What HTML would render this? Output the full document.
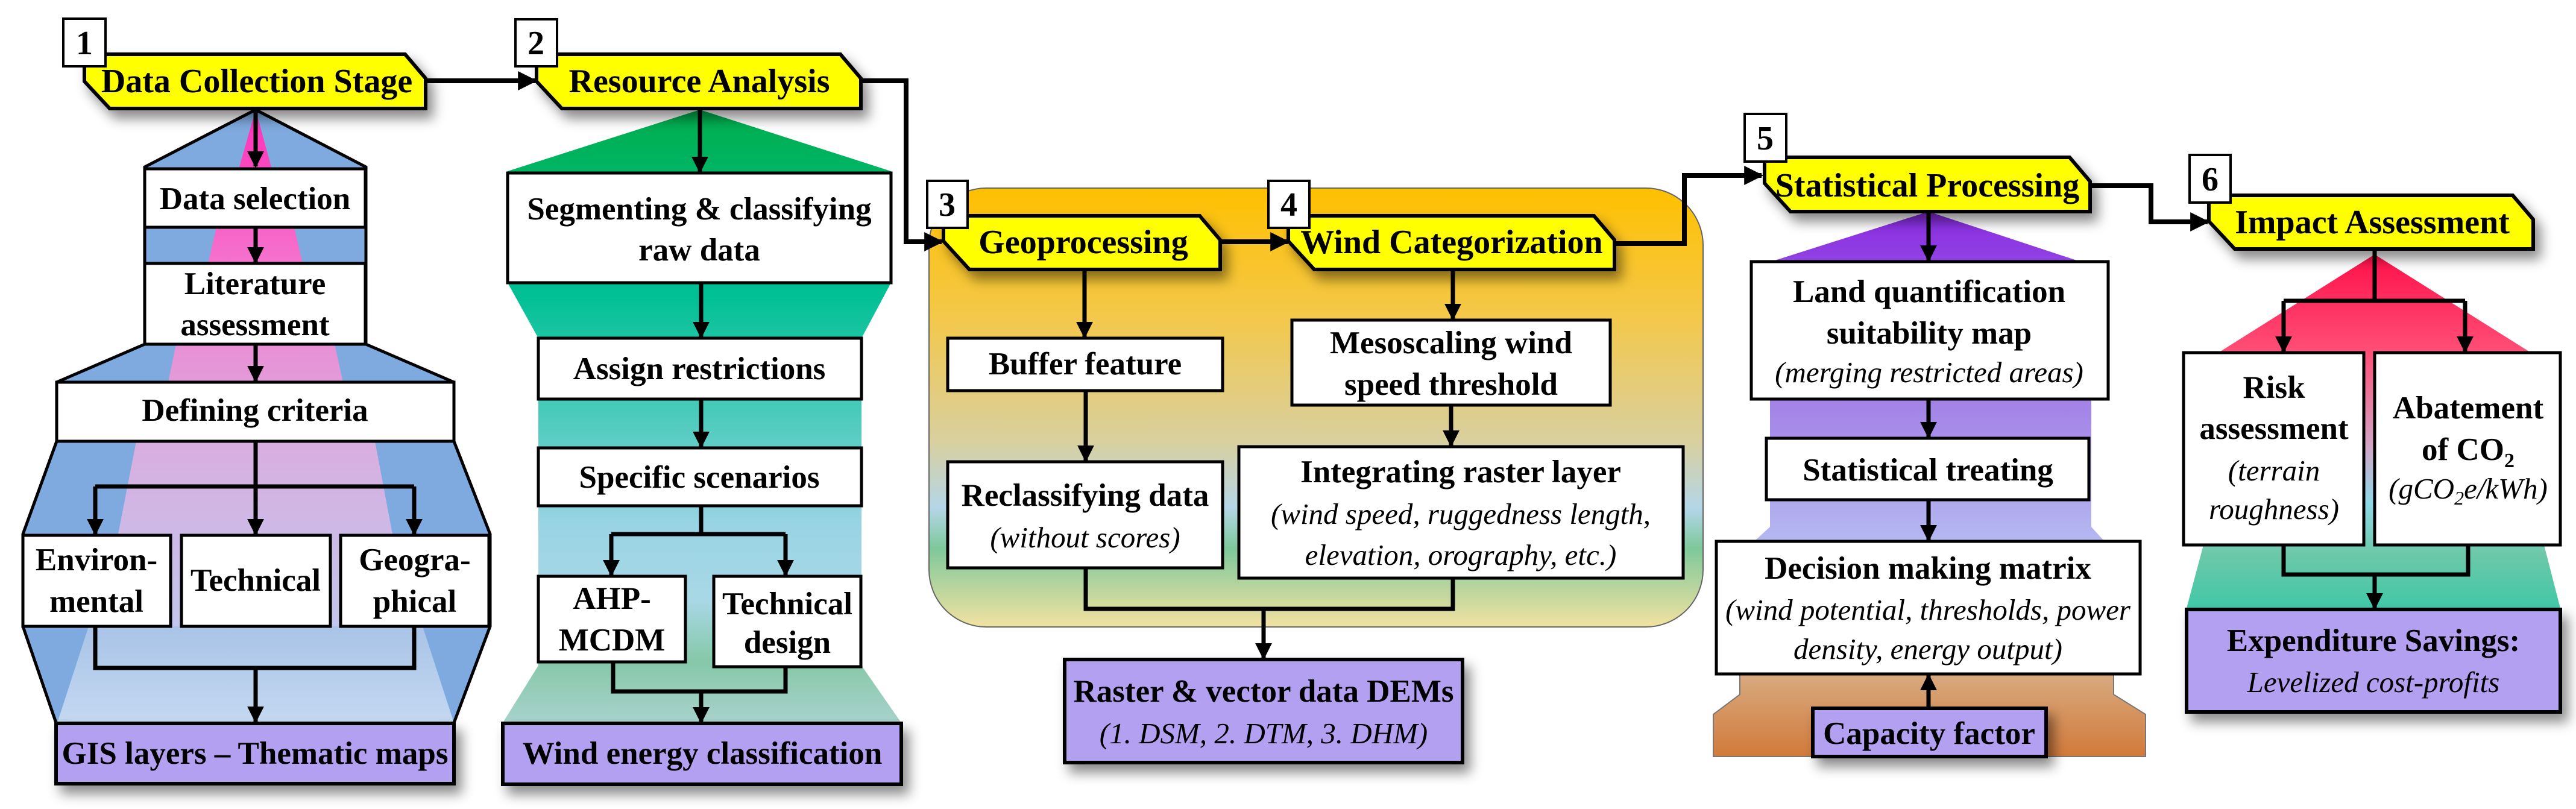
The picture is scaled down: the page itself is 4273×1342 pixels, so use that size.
<!DOCTYPE html>
<html><head><meta charset="utf-8"><style>
html,body{margin:0;padding:0;background:#fff;}
svg{display:block;}
text{font-family:"Liberation Serif",serif;font-weight:bold;fill:#000;}
.h{font-size:56px;}
.b{font-size:53px;}
.i{font-size:49px;font-style:italic;font-weight:normal;}
.n{font-size:56px;}
</style></head><body>
<svg width="4273" height="1342" viewBox="0 0 4273 1342" xmlns="http://www.w3.org/2000/svg" font-family="Liberation Serif, serif">
<defs>
<filter id="sh" x="-20%" y="-30%" width="150%" height="180%"><feDropShadow dx="10" dy="14" stdDeviation="10" flood-color="#000" flood-opacity="0.45"/></filter>
<marker id="ar" viewBox="0 0 10 10" refX="9" refY="5" markerWidth="4" markerHeight="4" orient="auto" markerUnits="strokeWidth"><path d="M0,0 L10,5 L0,10 z" fill="#000"/></marker>
<linearGradient id="beam" x1="0" y1="182" x2="0" y2="1039" gradientUnits="userSpaceOnUse">
<stop offset="0" stop-color="#ff2fb8"/><stop offset="0.35" stop-color="#f27fd0"/><stop offset="0.65" stop-color="#d8aee0"/><stop offset="1" stop-color="#c2c6ec"/></linearGradient>
<linearGradient id="low1" x1="0" y1="1039" x2="0" y2="1199" gradientUnits="userSpaceOnUse"><stop offset="0" stop-color="#a9c4e8"/><stop offset="1" stop-color="#c4d8f0"/></linearGradient>
<linearGradient id="g2" x1="0" y1="182" x2="0" y2="1199" gradientUnits="userSpaceOnUse">
<stop offset="0" stop-color="#00ae4c"/><stop offset="0.3" stop-color="#00c095"/><stop offset="0.5" stop-color="#4ccbbc"/><stop offset="0.68" stop-color="#9ad4e4"/><stop offset="0.8" stop-color="#a8d8e6"/><stop offset="0.9" stop-color="#86c8a8"/><stop offset="1" stop-color="#a8d2cc"/></linearGradient>
<linearGradient id="g3" x1="0" y1="312" x2="0" y2="1040" gradientUnits="userSpaceOnUse">
<stop offset="0" stop-color="#ffc000"/><stop offset="0.3" stop-color="#f3c84c"/><stop offset="0.58" stop-color="#d8d0a0"/><stop offset="0.73" stop-color="#b4d6e8"/><stop offset="0.82" stop-color="#7ec89c"/><stop offset="1" stop-color="#f2e2a0"/></linearGradient>
<linearGradient id="g5" x1="0" y1="351" x2="0" y2="897" gradientUnits="userSpaceOnUse">
<stop offset="0" stop-color="#8a2be2"/><stop offset="0.55" stop-color="#a27ee6"/><stop offset="1" stop-color="#b4b8f0"/></linearGradient>
<linearGradient id="gb" x1="0" y1="1118" x2="0" y2="1255" gradientUnits="userSpaceOnUse"><stop offset="0" stop-color="#d8aa80"/><stop offset="1" stop-color="#d27a3a"/></linearGradient>
<linearGradient id="g6" x1="0" y1="422" x2="0" y2="1009" gradientUnits="userSpaceOnUse">
<stop offset="0" stop-color="#ff1048"/><stop offset="0.28" stop-color="#ff5078"/><stop offset="0.55" stop-color="#d0a8c8"/><stop offset="0.7" stop-color="#90d8e8"/><stop offset="0.85" stop-color="#6cc8a8"/><stop offset="1" stop-color="#40c8a8"/></linearGradient>
</defs>

<polygon points="424,182 607,277 607,571 753,634 753,732 813,886 813,1039 753,1199 93,1199 38,1039 38,886 94,732 94,634 240,571 240,277" fill="#7faadf"/>
<polygon points="424,182 450,277 488,377 502,437 555,571 569,634 622,732 651,886 680,1039 168,1039 196,886 226,732 279,634 292,571 345,437 359,377 397,277" fill="url(#beam)"/>
<polygon points="147,1039 701,1039 753,1199 95,1199" fill="url(#low1)"/>
<polyline points="424,182 607,277 607,571 753,634 753,732 813,886 813,1039 753,1199" fill="none" stroke="#000" stroke-width="5"/>
<polyline points="424,182 240,277 240,571 94,634 94,732 38,886 38,1039 93,1199" fill="none" stroke="#000" stroke-width="5"/>

<polygon points="1161,182 1478,284 1478,469 1429,561 1429,1104 1495,1199 834,1199 893,1104 893,561 842,469 842,284" fill="url(#g2)"/>

<rect x="1541" y="312" width="1284" height="728" rx="95" fill="url(#g3)" stroke="#666" stroke-width="2"/>

<polygon points="3199,351 3448,433 3469,433 3469,874 3490,897 2911,897 2936,874 2936,433 2941,433" fill="url(#g5)"/>
<polygon points="2886,1118 3506,1118 3506,1152 3559,1185 3559,1255 2842,1255 2842,1185 2886,1152" fill="url(#gb)" stroke="#777" stroke-width="2"/>

<polygon points="3939,422 4195,583 4195,904 4220,904 4247,1009 3627,1009 3655,904 3683,904 3683,583" fill="url(#g6)"/>

<g fill="none" stroke="#000" stroke-width="8">
<line x1="706" y1="134" x2="888" y2="134" marker-end="url(#ar)"/>
<polyline points="1428,134 1503,134 1503,401 1562,401" marker-end="url(#ar)"/>
<line x1="2024" y1="401" x2="2136" y2="401" marker-end="url(#ar)"/>
<polyline points="2678,404 2794,404 2794,291 2922,291" marker-end="url(#ar)"/>
<polyline points="3467,308 3568,308 3568,368 3662,368" marker-end="url(#ar)"/>
</g>

<g filter="url(#sh)" fill="#ffff00" stroke="#000" stroke-width="6">
<polygon points="140,90 672,90 706,130 706,180 182,180 140,135"/>
<polygon points="890,90 1394,90 1428,130 1428,180 932,180 890,135"/>
<polygon points="1565,358 1990,358 2024,398 2024,447 1608,447 1565,400"/>
<polygon points="2137,358 2644,358 2678,398 2678,447 2180,447 2137,400"/>
<polygon points="2927,261 3433,261 3467,301 3467,351 2970,351 2927,304"/>
<polygon points="3664,324 4168,324 4202,364 4202,413 3707,413 3664,367"/>
</g>
<text class="h" x="426" y="153" text-anchor="middle">Data Collection Stage</text>
<text class="h" x="1160" y="153" text-anchor="middle">Resource Analysis</text>
<text class="h" x="1797" y="420" text-anchor="middle">Geoprocessing</text>
<text class="h" x="2408" y="420" text-anchor="middle">Wind Categorization</text>
<text class="h" x="3197" y="326" text-anchor="middle">Statistical Processing</text>
<text class="h" x="3935" y="387" text-anchor="middle">Impact Assessment</text>

<g fill="#fff" stroke="#000" stroke-width="4">
<rect x="105" y="31" width="70" height="79"/>
<rect x="855" y="32" width="69" height="78"/>
<rect x="1538" y="300" width="67" height="78"/>
<rect x="2104" y="300" width="68" height="78"/>
<rect x="2894" y="189" width="69" height="79"/>
<rect x="3632" y="257" width="68" height="79"/>
</g>
<text class="n" x="140" y="90" text-anchor="middle">1</text>
<text class="n" x="889" y="90" text-anchor="middle">2</text>
<text class="n" x="1571" y="358" text-anchor="middle">3</text>
<text class="n" x="2138" y="358" text-anchor="middle">4</text>
<text class="n" x="2928" y="248" text-anchor="middle">5</text>
<text class="n" x="3666" y="316" text-anchor="middle">6</text>

<g fill="none" stroke="#000" stroke-width="7">
<line x1="424" y1="182" x2="424" y2="276" marker-end="url(#ar)"/>
<line x1="424" y1="377" x2="424" y2="435" marker-end="url(#ar)"/>
<line x1="424" y1="571" x2="424" y2="632" marker-end="url(#ar)"/>
<line x1="424" y1="732" x2="424" y2="807"/>
<polyline points="158,807 687,807"/>
<line x1="158" y1="807" x2="158" y2="886" marker-end="url(#ar)"/>
<line x1="424" y1="807" x2="424" y2="886" marker-end="url(#ar)"/>
<line x1="687" y1="807" x2="687" y2="886" marker-end="url(#ar)"/>
<polyline points="158,1039 158,1108 687,1108 687,1039"/>
<line x1="424" y1="1108" x2="424" y2="1197" marker-end="url(#ar)"/>

<line x1="1161" y1="182" x2="1161" y2="285" marker-end="url(#ar)"/>
<line x1="1163" y1="469" x2="1163" y2="559" marker-end="url(#ar)"/>
<line x1="1163" y1="662" x2="1163" y2="741" marker-end="url(#ar)"/>
<line x1="1163" y1="839" x2="1163" y2="886"/>
<polyline points="1014,886 1303,886"/>
<line x1="1014" y1="886" x2="1014" y2="954" marker-end="url(#ar)"/>
<line x1="1303" y1="886" x2="1303" y2="954" marker-end="url(#ar)"/>
<polyline points="1017,1098 1017,1147 1303,1147 1303,1106"/>
<line x1="1163" y1="1147" x2="1163" y2="1198" marker-end="url(#ar)"/>

<line x1="1799" y1="447" x2="1799" y2="559" marker-end="url(#ar)"/>
<line x1="1801" y1="648" x2="1801" y2="764" marker-end="url(#ar)"/>
<line x1="2410" y1="447" x2="2410" y2="529" marker-end="url(#ar)"/>
<line x1="2407" y1="672" x2="2407" y2="739" marker-end="url(#ar)"/>
<polyline points="1801,942 1801,1010 2410,1010 2410,959"/>
<line x1="2096" y1="1010" x2="2096" y2="1092" marker-end="url(#ar)"/>

<line x1="3199" y1="351" x2="3199" y2="432" marker-end="url(#ar)"/>
<line x1="3199" y1="662" x2="3199" y2="725" marker-end="url(#ar)"/>
<line x1="3199" y1="829" x2="3199" y2="896" marker-end="url(#ar)"/>
<line x1="3199" y1="1175" x2="3199" y2="1120" marker-end="url(#ar)"/>

<line x1="3939" y1="413" x2="3939" y2="499"/>
<polyline points="3788,499 4089,499"/>
<line x1="3788" y1="499" x2="3788" y2="583" marker-end="url(#ar)"/>
<line x1="4089" y1="499" x2="4089" y2="583" marker-end="url(#ar)"/>
<polyline points="3788,904 3788,953 4094,953 4094,904"/>
<line x1="3939" y1="953" x2="3939" y2="1009" marker-end="url(#ar)"/>
</g>

<g fill="#fff" stroke="#000" stroke-width="5">
<rect x="240" y="280" width="366" height="97"/>
<rect x="240" y="437" width="366" height="134"/>
<rect x="94" y="634" width="659" height="98"/>
<rect x="38" y="888" width="245" height="151"/>
<rect x="301" y="888" width="247" height="151"/>
<rect x="565" y="888" width="246" height="151"/>
<rect x="842" y="287" width="636" height="182"/>
<rect x="893" y="561" width="536" height="101"/>
<rect x="893" y="743" width="536" height="96"/>
<rect x="893" y="956" width="244" height="142"/>
<rect x="1184" y="956" width="244" height="150"/>
<rect x="1572" y="561" width="456" height="87"/>
<rect x="1572" y="766" width="456" height="176"/>
<rect x="2143" y="531" width="528" height="141"/>
<rect x="2055" y="741" width="737" height="218"/>
<rect x="2905" y="434" width="592" height="228"/>
<rect x="2930" y="727" width="535" height="102"/>
<rect x="2847" y="898" width="703" height="220"/>
<rect x="3622" y="585" width="299" height="319"/>
<rect x="3939" y="585" width="308" height="319"/>
</g>

<g fill="#b4a0f0" stroke="#000" stroke-width="6" filter="url(#sh)">
<rect x="93" y="1200" width="660" height="100"/>
<rect x="834" y="1200" width="661" height="101"/>
<rect x="1766" y="1094" width="660" height="171"/>
<rect x="3007" y="1175" width="387" height="80"/>
<rect x="3627" y="1011" width="620" height="170"/>
</g>

<g text-anchor="middle">
<text class="b" x="423" y="347">Data selection</text>
<text class="b" x="423" y="488">Literature</text>
<text class="b" x="423" y="556">assessment</text>
<text class="b" x="423" y="698">Defining criteria</text>
<text class="b" x="160" y="946">Environ-</text>
<text class="b" x="160" y="1015">mental</text>
<text class="b" x="424" y="980">Technical</text>
<text class="b" x="688" y="946">Geogra-</text>
<text class="b" x="688" y="1015">phical</text>
<text class="b" x="423" y="1267">GIS layers – Thematic maps</text>

<text class="b" x="1160" y="364">Segmenting &amp; classifying</text>
<text class="b" x="1160" y="432">raw data</text>
<text class="b" x="1160" y="629">Assign restrictions</text>
<text class="b" x="1160" y="809">Specific scenarios</text>
<text class="b" x="1015" y="1010">AHP-</text>
<text class="b" x="1015" y="1079">MCDM</text>
<text class="b" x="1306" y="1019">Technical</text>
<text class="b" x="1306" y="1083">design</text>
<text class="b" x="1165" y="1267">Wind energy classification</text>

<text class="b" x="1800" y="621">Buffer feature</text>
<text class="b" x="1800" y="839">Reclassifying data</text>
<text class="i" x="1800" y="908">(without scores)</text>
<text class="b" x="2407" y="586">Mesoscaling wind</text>
<text class="b" x="2407" y="655">speed threshold</text>
<text class="b" x="2423" y="800">Integrating raster layer</text>
<text class="i" x="2423" y="869">(wind speed, ruggedness length,</text>
<text class="i" x="2423" y="937">elevation, orography, etc.)</text>
<text class="b" x="2096" y="1164">Raster &amp; vector data DEMs</text>
<text class="i" x="2096" y="1233">(1. DSM, 2. DTM, 3. DHM)</text>

<text class="b" x="3200" y="501">Land quantification</text>
<text class="b" x="3200" y="570">suitability map</text>
<text class="i" x="3200" y="634">(merging restricted areas)</text>
<text class="b" x="3198" y="797">Statistical treating</text>
<text class="b" x="3198" y="960">Decision making matrix</text>
<text class="i" x="3198" y="1028">(wind potential, thresholds, power</text>
<text class="i" x="3198" y="1093">density, energy output)</text>
<text class="b" x="3200" y="1234">Capacity factor</text>

<text class="b" x="3772" y="660">Risk</text>
<text class="b" x="3772" y="728">assessment</text>
<text class="i" x="3772" y="797">(terrain</text>
<text class="i" x="3772" y="861">roughness)</text>
<text class="b" x="4094" y="694">Abatement</text>
<text class="b" x="4094" y="763">of CO<tspan font-size="34" dy="12">2</tspan></text>
<text class="i" x="4094" y="827">(gCO<tspan font-size="32" dy="10">2</tspan><tspan dy="-10">e/kWh)</tspan></text>
<text class="b" x="3937" y="1080">Expenditure Savings:</text>
<text class="i" x="3937" y="1148">Levelized cost-profits</text>
</g>
</svg>
</body></html>
